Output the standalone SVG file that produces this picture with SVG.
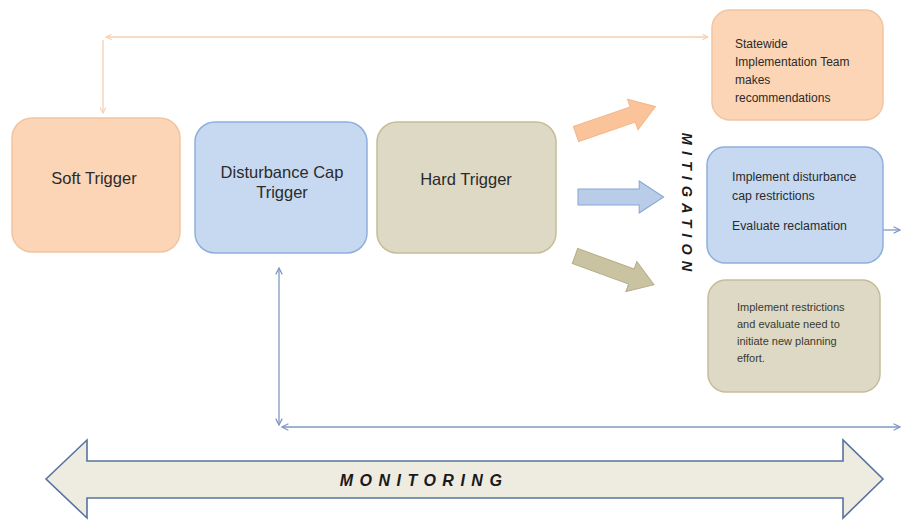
<svg xmlns="http://www.w3.org/2000/svg" width="902" height="520" viewBox="0 0 902 520">
<style>
.t{font-family:"Liberation Sans",Arial,sans-serif;fill:#2b2b2b}
.big{font-size:16.5px}
.sm{font-size:12px}
.xs{font-size:11px;fill:#3a3a30}
.cap{font-family:"Liberation Sans",Arial,sans-serif;font-weight:bold;font-style:italic;fill:#1a1a1a}
.or{fill:#FBD5B5;stroke:#F2C4A0;stroke-width:1.5}
.bl{fill:#C6D9F1;stroke:#8EAEDB;stroke-width:1.5}
.tn{fill:#DDD9C4;stroke:#C4BD97;stroke-width:1.5}
.co{fill:none;stroke:#F5CFB2;stroke-width:1.3}
.cb{fill:none;stroke:#7E98C4;stroke-width:1.3}
</style>
<defs>
<marker id="mo" viewBox="0 0 10 10" refX="9" refY="5" markerWidth="7" markerHeight="7" orient="auto-start-reverse" markerUnits="userSpaceOnUse"><path d="M1,1 L9,5 L1,9" fill="none" stroke="#F5CFB2" stroke-width="1.5"/></marker>
<marker id="mb" viewBox="0 0 10 10" refX="9" refY="5" markerWidth="8" markerHeight="8" orient="auto-start-reverse" markerUnits="userSpaceOnUse"><path d="M1,1 L9,5 L1,9" fill="none" stroke="#7E98C4" stroke-width="1.6"/></marker>
<path id="fat" d="M0,-8 L60,-8 L60,-16 L84,0 L60,16 L60,8 L0,8 Z"/>
</defs>

<g id="connectors">
<line class="co" x1="106" y1="37" x2="708" y2="37" marker-start="url(#mo)" marker-end="url(#mo)"/>
<line class="co" x1="103" y1="40" x2="103" y2="113" marker-end="url(#mo)"/>
<line class="cb" x1="279" y1="268" x2="279" y2="425" marker-start="url(#mb)" marker-end="url(#mb)"/>
<line class="cb" x1="282" y1="427" x2="900" y2="427" marker-start="url(#mb)" marker-end="url(#mb)"/>
<line class="cb" x1="883" y1="230" x2="900" y2="230" marker-end="url(#mb)"/>
<use href="#fat" transform="translate(576,134) rotate(-19)" fill="#FAC39A" stroke="#F3B68A" stroke-width="1"/>
<use href="#fat" transform="translate(578,197) scale(1.02,1)" fill="#B9CDE8" stroke="#86A6D6" stroke-width="1"/>
<use href="#fat" transform="translate(575,256) rotate(20)" fill="#C9C3A2" stroke="#B5AE88" stroke-width="1"/>
</g>

<g id="soft-trigger">
<rect class="or" x="12" y="118" width="168" height="134" rx="20"/>
<text class="t big" x="94" y="184" text-anchor="middle">Soft Trigger</text>
</g>

<g id="disturbance-cap-trigger">
<rect class="bl" x="195" y="122" width="172" height="131" rx="20"/>
<text class="t big" x="282" y="178" text-anchor="middle">Disturbance Cap</text>
<text class="t big" x="282" y="198" text-anchor="middle">Trigger</text>
</g>

<g id="hard-trigger">
<rect class="tn" x="377" y="122" width="179" height="131" rx="20"/>
<text class="t big" x="466" y="185" text-anchor="middle">Hard Trigger</text>
</g>

<g id="statewide-team">
<rect class="or" x="712" y="10" width="171" height="110" rx="18"/>
<text class="t sm" x="735" y="48">Statewide</text>
<text class="t sm" x="735" y="66">Implementation Team</text>
<text class="t sm" x="735" y="84">makes</text>
<text class="t sm" x="735" y="102">recommendations</text>
</g>

<g id="mitigation-label">
<text class="cap" font-size="14.5" letter-spacing="6" text-anchor="middle" transform="translate(682,205) rotate(90)">MITIGATION</text>
</g>

<g id="disturbance-restrictions">
<rect class="bl" x="707" y="147" width="176" height="116" rx="18"/>
<text class="t" font-size="12.3" x="732" y="181">Implement disturbance</text>
<text class="t" font-size="12.3" x="732" y="200">cap restrictions</text>
<text class="t" font-size="12.3" x="732" y="230">Evaluate reclamation</text>
</g>

<g id="hard-restrictions">
<rect class="tn" x="708" y="280" width="172" height="112" rx="18"/>
<text class="t xs" x="737" y="311">Implement restrictions</text>
<text class="t xs" x="737" y="328">and evaluate need to</text>
<text class="t xs" x="737" y="345">initiate new planning</text>
<text class="t xs" x="737" y="362">effort.</text>
</g>

<g id="monitoring">
<path d="M46,479 L87,440 L87,461 L843,461 L843,440 L883,479 L843,518 L843,498 L87,498 L87,518 Z" fill="#EEECE1" stroke="#56739E" stroke-width="1.6" stroke-linejoin="miter"/>
<text class="cap" font-size="16" letter-spacing="6.5" x="424" y="486" text-anchor="middle">MONITORING</text>
</g>
</svg>
